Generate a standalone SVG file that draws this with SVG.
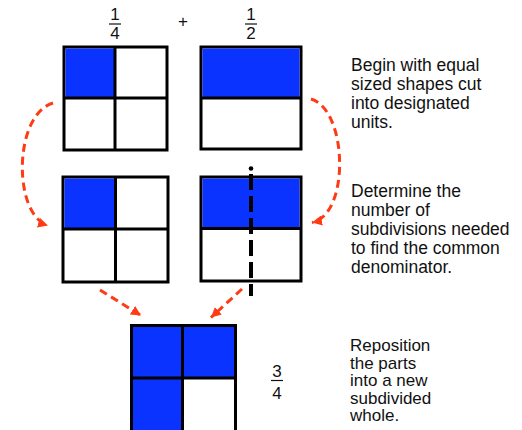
<svg xmlns="http://www.w3.org/2000/svg" width="522" height="430" viewBox="0 0 522 430">
<defs>
<style>
.sq{fill:#fff;stroke:#000;stroke-width:3}
.bl{fill:#0b33ff;stroke:none}
.dv{stroke:#000;stroke-width:3;fill:none}
.red{fill:none;stroke:#ff3a14;stroke-width:3;stroke-dasharray:8 5}
.t{font-family:"Liberation Sans",Arial,sans-serif;font-size:17.5px;fill:#111}
.t2{font-family:"Liberation Sans",Arial,sans-serif;font-size:17px;fill:#111}
.f{font-family:"Liberation Sans",Arial,sans-serif;font-size:17px;fill:#111;text-anchor:middle}
.bar{stroke:#111;stroke-width:1.2}
</style>
<marker id="ah" markerUnits="userSpaceOnUse" markerWidth="12" markerHeight="10" refX="10" refY="5" orient="auto">
<path d="M0,0 L10,5 L0,10 Z" fill="#ff3a14"/>
</marker>
</defs>
<rect width="522" height="430" fill="#fff"/>

<g id="frac-quarter">
<text class="f" x="115" y="20">1</text>
<line class="bar" x1="109" y1="24" x2="121" y2="24"/>
<text class="f" x="115" y="39">4</text>
</g>
<g id="plus"><text class="f" x="183" y="27">+</text></g>
<g id="frac-half">
<text class="f" x="251" y="20">1</text>
<line class="bar" x1="245" y1="24" x2="257" y2="24"/>
<text class="f" x="251" y="39">2</text>
</g>

<g id="shape-quarter">
<rect class="sq" x="64" y="47" width="103" height="103"/>
<rect class="bl" x="65.5" y="48.5" width="49.5" height="49.5"/>
<line class="dv" x1="115" y1="47" x2="115" y2="150"/>
<line class="dv" x1="64" y1="98" x2="167" y2="98"/>
</g>

<g id="shape-half">
<rect class="sq" x="201" y="47" width="100" height="102"/>
<rect class="bl" x="202.5" y="48.5" width="97" height="49.5"/>
<line class="dv" x1="201" y1="98" x2="301" y2="98"/>
</g>

<g id="shape-quarter-2">
<rect class="sq" x="63" y="177" width="105" height="105"/>
<rect class="bl" x="64.5" y="178.5" width="51" height="50.5"/>
<line class="dv" x1="115.5" y1="177" x2="115.5" y2="282"/>
<line class="dv" x1="63" y1="229" x2="168" y2="229"/>
</g>

<g id="shape-half-2">
<rect class="sq" x="201" y="177" width="100" height="104"/>
<rect class="bl" x="202.5" y="178.5" width="97" height="50"/>
<line class="dv" x1="201" y1="228.5" x2="301" y2="228.5"/>
<line x1="251" y1="174" x2="251" y2="296" stroke="#000" stroke-width="4" stroke-dasharray="16 6"/>
<circle cx="251" cy="168.5" r="2.3" fill="#000"/>
</g>

<g id="shape-result">
<rect class="sq" x="131.5" y="325.5" width="104" height="108"/>
<rect class="bl" x="133" y="327" width="101" height="51"/>
<rect class="bl" x="133" y="378" width="49.5" height="54"/>
<line class="dv" x1="182.5" y1="325.5" x2="182.5" y2="433"/>
<line class="dv" x1="131.5" y1="378" x2="235.5" y2="378"/>
</g>

<g id="frac-result">
<text class="f" x="277" y="377">3</text>
<line class="bar" x1="271" y1="380.5" x2="283" y2="380.5"/>
<text class="f" x="277" y="398.5">4</text>
</g>

<g id="connectors">
<path class="red" d="M53,103 C13,115 13,215 48,225.5" marker-end="url(#ah)"/>
<path class="red" d="M311,99 C348,110 350,215 312,222.5" marker-end="url(#ah)"/>
<path class="red" d="M100,290 L141,315.5" marker-end="url(#ah)"/>
<path class="red" d="M242,289 L211,317.5" marker-end="url(#ah)"/>
</g>

<g id="text-begin">
<text class="t" x="351" y="71">Begin with equal</text>
<text class="t" x="351" y="90">sized shapes cut</text>
<text class="t" x="351" y="108.5">into designated</text>
<text class="t" x="351" y="127.5">units.</text>
</g>
<g id="text-determine">
<text class="t" x="351" y="197">Determine the</text>
<text class="t" x="351" y="216">number of</text>
<text class="t" x="351" y="234.5">subdivisions needed</text>
<text class="t" x="351" y="253.5">to find the common</text>
<text class="t" x="351" y="272.5">denominator.</text>
</g>
<g id="text-reposition">
<text class="t2" x="350" y="351">Reposition</text>
<text class="t2" x="350" y="368.5">the parts</text>
<text class="t2" x="350" y="386">into a new</text>
<text class="t2" x="350" y="403.5">subdivided</text>
<text class="t2" x="350" y="421">whole.</text>
</g>
</svg>
